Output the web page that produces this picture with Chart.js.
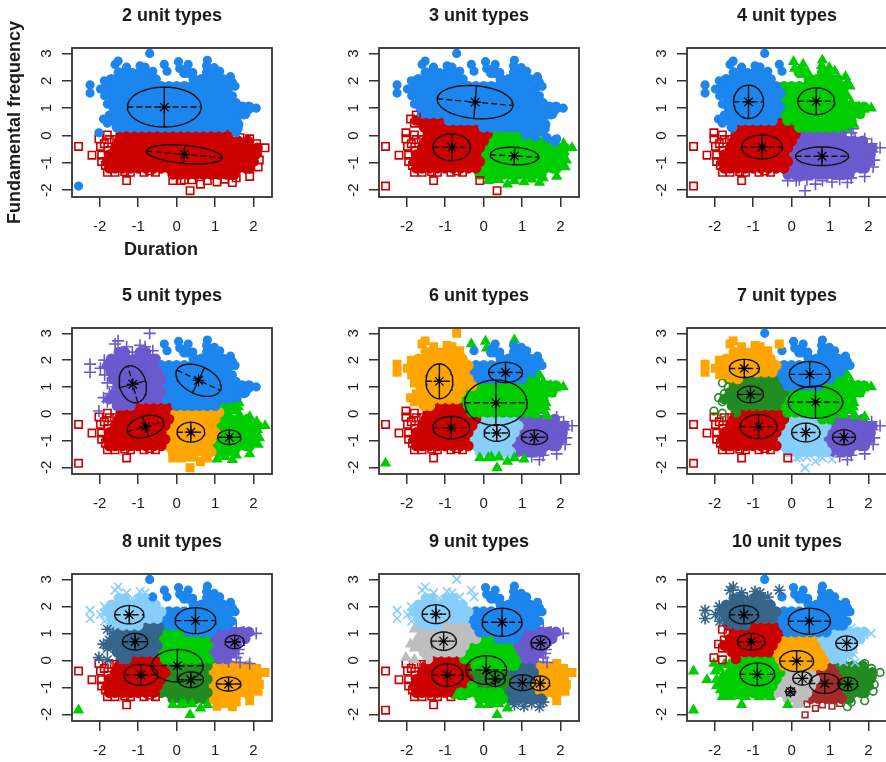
<!DOCTYPE html>
<html>
<head>
<meta charset="utf-8">
<script src="https://cdn.jsdelivr.net/npm/chart.js@4"></script>
<style>
html, body { margin: 0; padding: 0; background: #fff; width: 886px; height: 762px; overflow: hidden; }
canvas { position: absolute; }
</style>
</head>
<body>
<script>
var xTicks = [-2, -1, 0, 1, 2];
var yTicks = [-2, -1, 0, 1, 2, 3];
var xName = "Duration";
var yName = "Fundamental frequency";
var panelTitles = ["2 unit types", "3 unit types", "4 unit types", "5 unit types", "6 unit types",
    "7 unit types", "8 unit types", "9 unit types", "10 unit types"];

// the same tokens sit in every panel: [frequency, [durations]]
var cloudRows = [
    [2.3, [-1.5, -1.35, -.95, -.8, .2, .3, .8, .95]],
    [2.05, [-1.7, -1.5, -1.3, -1.1, -.9, -.7, -.55, .45, .65, .85, 1.05, 1.2]],
    [1.8, [-1.8, -1.6, -1.4, -1.2, -1, -.8, -.6, -.4, -.2, 0, .2, .4, .6, .8, 1, 1.2, 1.38]],
    [1.55, [-1.7, -1.5, -1.3, -1.1, -.9, -.7, -.5, -.3, -.1, .1, .3, .5, .7, .9, 1.1, 1.3]],
    [1.3, [-1.65, -1.4, -1.2, -1, -.8, -.6, -.4, -.2, 0, .2, .4, .6, .8, 1, 1.2, 1.33]],
    [1.05, [-1.5, -1.3, -1.1, -.9, -.7, -.5, -.3, -.1, .1, .3, .5, .7, .9, 1.1, 1.3, 1.5, 1.7, 1.88]],
    [.8, [-1.6, -1.4, -1.2, -1, -.8, -.6, -.4, -.2, 0, .2, .4, .6, .8, 1, 1.2, 1.4, 1.6, 1.78]],
    [.55, [-1.75, -1.5, -1.3, -1.1, -.9, -.7, -.5, -.3, -.1, .1, .3, .5, .7, .9, 1.1, 1.3, 1.55]],
    [.3, [-1.55, -1.4, -1.2, -1, -.8, -.6, -.4, -.2, 0, .2, .4, .6, .8, 1, 1.2, 1.45]],
    [.05, [-1.45, -1.3, -1.1, -.9, -.7, -.5, -.3, -.1, .1, .3, .5, .7, .9, 1.1, 1.3]],
    [-.2, [-1.5, -1.4, -1.2, -1, -.8, -.6, -.4, -.2, 0, .2, .4, .6, .8, 1, 1.2, 1.4, 1.6, 1.85]],
    [-.45, [-1.6, -1.5, -1.3, -1.1, -.9, -.7, -.5, -.3, -.1, .1, .3, .5, .7, .9, 1.1, 1.3, 1.5, 1.7, 1.9, 2.1]],
    [-.7, [-1.75, -1.6, -1.4, -1.2, -1, -.8, -.6, -.4, -.2, 0, .2, .4, .6, .8, 1, 1.2, 1.4, 1.6, 1.8, 2.05]],
    [-.95, [-1.8, -1.65, -1.5, -1.3, -1.1, -.9, -.7, -.5, -.3, -.1, .1, .3, .5, .7, .9, 1.1, 1.3, 1.5, 1.7, 1.9, 2]],
    [-1.2, [-1.75, -1.6, -1.4, -1.2, -1, -.8, -.6, -.4, -.2, 0, .2, .4, .6, .8, 1, 1.2, 1.4, 1.6, 1.8, 1.9]],
    [-1.42, [-.1, .1, .3, .5, .7, .9, 1.1, 1.3, 1.5]]
];

// stragglers round the edge of the cloud: [duration, frequency]
var rimPoints = [
    [-.7, 3], [-1.52, 2.72], [-1.6, 2.6], [-1.3, 2.5], [-1.15, 2.3], [-.95, 2.55], [-.82, 2.5], [-.62, 2.35],
    [-.32, 2.6], [-.25, 2.35], [.05, 2.7], [.08, 2.45], [.3, 2.6], [.2, 2.4], [.42, 2.3], [.8, 2.75], [.78, 2.55],
    [.98, 2.48], [1.12, 2.35], [1.4, 2.15], [1.45, 1.95], [1.52, 1.8],
    [-2.25, 1.85], [-2.25, 1.55], [-1.98, 1.7], [-1.88, 2], [-1.87, 1.75], [-1.87, 1.45], [-1.8, 1.15], [-1.65, 1],
    [-1.9, .6], [-1.75, .75], [-1.8, .45], [-1.55, .45],
    [-2.55, -.4], [-2.2, -.72], [-2.02, .1], [-2.02, -.12], [-1.98, -.4], [-1.95, -.72], [-1.8, .02], [-1.75, -.15],
    [-1.88, -.3], [-1.78, -.55], [-1.62, -.15], [-1.95, -.95], [-1.85, -1.1], [-1.8, -1.35], [-1.6, -1.35],
    [-1.35, -1.32], [-1.3, -1.65], [-1.2, -1.35], [-.85, -1.35], [-.7, -1.3], [-.55, -1.35],
    [-.1, -1.65], [.12, -1.65], [.2, -1.62], [.35, -2.02], [.4, -1.62], [.62, -1.78], [.8, -1.65], [1.05, -1.7],
    [1.25, -1.6], [1.45, -1.72], [1.55, -1.55], [1.9, -1.5],
    [2.12, -1.15], [2.15, -.9], [2.1, -.6], [2.3, -.45], [2.08, -.3], [1.9, -.12], [1.65, -.08], [1.35, -.05],
    [1.6, .25], [1.55, .1], [1.62, .4], [1.55, .6], [1.75, .75], [2.07, 1], [1.88, .95], [1.75, 1.05], [1.55, 1.2],
    [1.45, 1.45], [-2.55, -1.85]
];

// which unit owns which part of the cloud: [unit, duration, frequency, optional reach]
var panelSeeds = [
    [["blue", 0, 1.25], ["red", 0, -1.05], ["blue", -2.55, -1.85, .1]],
    [["blue", -.3, 1.3], ["blue", 1.4, 1], ["red", -.85, -.45], ["green", .8, -1],
        ["red", -.1, -1.65, .1], ["red", .35, -2.02, .1]],
    [["blue", -1.12, 1.25], ["green", .64, 1.25], ["red", -.77, -.42], ["purple", .79, -.76]],
    [["purple", -1.14, 1.1], ["blue", .4, 1.25], ["red", -.81, -.48], ["orange", .37, -.69], ["green", 1.7, -.8]],
    [["orange", -1.15, 1.21], ["blue", .57, 1.8], ["green", .32, .41], ["green", 1.4, .7], ["red", -.84, -.52],
        ["ltblue", .34, -.72], ["purple", 1.36, -.88], ["green", -2.55, -1.85, .1], ["green", .35, -2.02, .1],
        ["green", -.1, -1.65, .1], ["green", .12, -1.65, .1], ["green", .2, -1.62, .1], ["green", .4, -1.62, .1],
        ["green", .62, -1.78, .1], ["green", .8, -1.65, .1], ["green", 1.05, -1.7, .1],
        ["green", -.32, 2.6, .1], ["green", .05, 2.7, .1], ["green", .08, 2.45, .1], ["green", .8, 2.75, .1],
        ["orange", -.7, 3, .1]],
    [["orange", -1.23, 1.9], ["blue", .47, 1.6], ["dkgreen", -1.07, .72], ["green", .62, .43], ["green", 1.6, .7],
        ["red", -.86, -.48], ["ltblue", .37, -.72], ["ltblue", .4, -1.8], ["purple", 1.36, -.88],
        ["red", -.1, -1.65, .1], ["blue", -.7, 3, .1]],
    [["ltblue", -1.23, 1.85], ["blue", .49, 1.55], ["blue", 1.3, 1.9], ["steel", -1.08, .69], ["purple", 1.7, .65],
        ["green", .15, .5], ["red", -.93, -.54], ["dkgreen", .3, -.75], ["orange", 1.4, -.88],
        ["green", -2.55, -1.85, .1], ["green", .35, -2.02, .1], ["green", -.1, -1.65, .1], ["green", .12, -1.65, .1],
        ["green", .2, -1.62, .1], ["green", .4, -1.62, .1], ["green", .62, -1.78, .1], ["green", .8, -1.65, .1],
        ["blue", -.7, 3, .1], ["blue", -.32, 2.6, .1], ["blue", -.62, 2.35, .1]],
    [["ltblue", -1.24, 1.85], ["blue", .48, 1.5], ["blue", 1.3, 1.9], ["gray", -1.04, .71], ["purple", 1.65, .65],
        ["green", .2, .05], ["green", .05, -1.3], ["red", -.94, -.55], ["dkgreen", .2, -.8], ["steel", 1, -.83],
        ["steel", 1, -1.7], ["orange", 1.6, -.85], ["green", .35, -2.02, .1], ["green", -.1, -1.65, .1],
        ["green", .12, -1.65, .1], ["green", .2, -1.62, .1], ["green", .4, -1.62, .1], ["green", .62, -1.78, .1]],
    [["steel", -1.24, 1.85], ["blue", .46, 1.6], ["blue", 1.3, 1.95], ["ltblue", 1.6, .65], ["red", -1.05, .72],
        ["orange", .2, .2], ["green", -.89, -.52], ["gray", .2, -.8], ["brown", .95, -1], ["dkgreen", 1.6, -.88],
        ["purple", -.03, -1.2, .15], ["green", -2.55, -1.85, .1], ["green", -.1, -1.65, .1], ["blue", -.7, 3, .1]]
];

// fitted ellipses: [centre duration, centre frequency, long radius, short radius, tilt as seen on screen, degrees]
var panelEllipses = [
    [[-.32, 1.04, .96, .73, 0], [.2, -.69, .99, .33, -5]],
    [[-.22, 1.22, .99, .6, -5], [-.83, -.43, .49, .49, 0], [.8, -.75, .63, .32, -3]],
    [[-1.12, 1.23, .39, .61, 0], [.64, 1.25, .48, .49, 0], [-.77, -.42, .53, .44, 0], [.79, -.76, .69, .34, 0]],
    [[-1.14, 1.1, .495, .49, 105], [.57, 1.25, .625, .52, -25], [-.81, -.48, .49, .39, 15.5], [.37, -.69, .36, .37, 0],
        [1.37, -.88, .3, .27, 0]],
    [[-1.15, 1.21, .35, .65, 0], [.57, 1.54, .44, .38, 0], [.32, .41, .81, .85, 0], [-.84, -.52, .48, .42, 0],
        [.34, -.72, .33, .31, 0], [1.32, -.88, .34, .27, 0]],
    [[-1.23, 1.69, .39, .34, 0], [.47, 1.47, .53, .48, 0], [-1.07, .72, .34, .31, 0], [.62, .43, .71, .6, 0],
        [-.86, -.48, .48, .45, 0], [.37, -.7, .37, .35, 0], [1.36, -.88, .3, .28, 0]],
    [[-1.23, 1.69, .38, .34, 0], [.49, 1.47, .53, .48, 0], [-1.08, .69, .33, .31, 0], [1.51, .68, .25, .25, 0],
        [.02, -.2, .67, .6, 0], [-.93, -.54, .44, .39, 0], [.37, -.72, .33, .29, 0], [1.35, -.88, .32, .26, 0]],
    [[-1.24, 1.71, .36, .35, 0], [.48, 1.41, .52, .52, 0], [-1.04, .71, .33, .34, 0], [1.48, .65, .25, .26, 0],
        [.07, -.36, .53, .53, 0], [-.94, -.55, .41, .42, 0], [.3, -.69, .26, .28, 0], [1.01, -.83, .34, .29, 0],
        [1.47, -.85, .25, .27, 0]],
    [[-1.24, 1.69, .38, .34, 0], [.46, 1.45, .55, .48, 0], [1.43, .63, .28, .27, 0], [-1.05, .69, .36, .31, 0],
        [.13, -.03, .44, .39, 0], [-.89, -.52, .45, .42, 0], [.28, -.67, .25, .25, 0], [.86, -.86, .4, .37, 0],
        [1.46, -.88, .26, .25, 0], [-.03, -1.16, .12, .15, 0]]
];

var unitStyles = {
    blue: { color: "#1C86EE", shape: "circle", radius: 3.8, open: false },
    red: { color: "#CD0000", shape: "rect", radius: 5.2, open: true },
    green: { color: "#00CD00", shape: "triangle", radius: 5, open: false },
    purple: { color: "#6A5ACD", shape: "cross", radius: 6, open: true },
    orange: { color: "#FFA500", shape: "rect", radius: 5.2, open: false },
    ltblue: { color: "#87CEFA", shape: "crossRot", radius: 6, open: true },
    dkgreen: { color: "#228B22", shape: "circle", radius: 3.8, open: true },
    steel: { color: "#36648B", shape: "star", radius: 6, open: true },
    gray: { color: "#BEBEBE", shape: "triangle", radius: 5, open: false },
    brown: { color: "#A52A2A", shape: "rect", radius: 4, open: true }
};

var panelLefts = [0, 307, 615];
var panelTops = [0, 280, 526];
var plotHeights = [149, 146, 147];
var inkColor = "#1a1a1a";
var squash = 27 / 38.4;

function ownerOf(seeds, x, y) {
    var best = null, bestDist = Infinity, i, d;
    for (i = 0; i < seeds.length; i++) {
        d = Math.sqrt(Math.pow(x - seeds[i][1], 2) + Math.pow(y - seeds[i][2], 2));
        if (seeds[i].length > 3) {
            if (d < seeds[i][3]) {
                return seeds[i][0];
            }
        } else if (d < bestDist) {
            bestDist = d;
            best = seeds[i][0];
        }
    }
    return best;
}

function ellipseLine(e) {
    var pts = [], t = e[4] * Math.PI / 180, i, a;
    for (i = 0; i <= 48; i++) {
        a = i / 48 * 2 * Math.PI;
        pts.push({
            x: e[0] + e[2] * Math.cos(a) * Math.cos(t) - e[3] * squash * Math.sin(a) * Math.sin(t),
            y: e[1] + e[2] / squash * Math.cos(a) * Math.sin(t) + e[3] * Math.sin(a) * Math.cos(t)
        });
    }
    return pts;
}

function ellipseDatasets(e) {
    var t = e[4] * Math.PI / 180;
    var lx = e[2] * Math.cos(t), ly = e[2] / squash * Math.sin(t);
    var sx = e[3] * squash * Math.sin(t), sy = e[3] * Math.cos(t);
    var lineBase = { type: "scatter", showLine: true, pointRadius: 0, borderColor: "#111", borderWidth: 1.4, fill: false };
    return [
        { type: "scatter", data: [{ x: e[0], y: e[1] }], pointStyle: "star", pointRadius: 6, borderColor: "#000",
            borderWidth: 1.2, backgroundColor: "#000" },
        Object.assign({}, lineBase, { data: ellipseLine(e) }),
        Object.assign({}, lineBase, { borderDash: [6, 3], data: [
            { x: e[0] - lx, y: e[1] - ly }, { x: e[0] + lx, y: e[1] + ly }] }),
        Object.assign({}, lineBase, { data: [
            { x: e[0] + sx, y: e[1] - sy }, { x: e[0] - sx, y: e[1] + sy }] })
    ];
}

function unitDatasets(seeds) {
    var body = {}, rim = {}, sets = [], names = [];
    seeds.forEach(function (s) {
        if (names.indexOf(s[0]) < 0) {
            names.push(s[0]);
            body[s[0]] = [];
            rim[s[0]] = [];
        }
    });
    cloudRows.forEach(function (row) {
        row[1].forEach(function (x) {
            body[ownerOf(seeds, x, row[0])].push({ x: x, y: row[0] });
        });
    });
    rimPoints.forEach(function (p) {
        rim[ownerOf(seeds, p[0], p[1])].push({ x: p[0], y: p[1] });
    });
    names.forEach(function (n) {
        var st = unitStyles[n];
        sets.push({ type: "scatter", data: rim[n], pointStyle: st.shape, pointRadius: st.radius,
            borderColor: st.color, borderWidth: 1.6, backgroundColor: st.open ? "rgba(0,0,0,0)" : st.color });
    });
    names.forEach(function (n) {
        var st = unitStyles[n];
        sets.push({ type: "scatter", data: body[n], pointStyle: "circle", pointRadius: 5.4,
            borderWidth: 0, backgroundColor: st.color });
    });
    return sets;
}

// R style frame, and the x name that sits left of the plot centre
var framePlugin = {
    id: "frame",
    afterDraw: function (chart, args, opts) {
        var a = chart.chartArea, ctx = chart.ctx;
        ctx.save();
        ctx.strokeStyle = "#333";
        ctx.lineWidth = 1.8;
        ctx.strokeRect(a.left, a.top, a.right - a.left, a.bottom - a.top);
        if (opts.xName) {
            ctx.fillStyle = inkColor;
            ctx.font = "bold 18px 'Liberation Sans'";
            ctx.textAlign = "center";
            ctx.textBaseline = "middle";
            ctx.fillText(opts.xName, a.left + 89, a.bottom + 53);
        }
        ctx.restore();
    }
};

panelTitles.forEach(function (title, i) {
    var row = Math.floor(i / 3), col = i % 3;
    var canvas = document.createElement("canvas");
    var datasets = [];
    canvas.width = 300;
    canvas.height = 48 + plotHeights[row] + 70;
    canvas.style.left = panelLefts[col] + "px";
    canvas.style.top = panelTops[row] + "px";
    document.body.appendChild(canvas);

    panelEllipses[i].forEach(function (e) {
        datasets = datasets.concat(ellipseDatasets(e));
    });
    datasets = datasets.concat(unitDatasets(panelSeeds[i]));

    new Chart(canvas, {
        type: "scatter",
        data: { datasets: datasets },
        plugins: [framePlugin],
        options: {
            responsive: false,
            animation: false,
            layout: { padding: { left: 0, right: 28, top: 0, bottom: 0 } },
            plugins: {
                legend: { display: false },
                tooltip: { enabled: false },
                title: {
                    display: true,
                    text: title,
                    fullSize: false,
                    color: inkColor,
                    font: { family: "'Liberation Sans'", size: 18, weight: "bold", lineHeight: 1.2 },
                    padding: { top: 5.2, bottom: 21.2 }
                },
                frame: { xName: i === 0 ? xName : null }
            },
            scales: {
                x: {
                    type: "linear",
                    min: -2.72,
                    max: 2.48,
                    afterBuildTicks: function (s) { s.ticks = xTicks.map(function (v) { return { value: v }; }); },
                    afterFit: function (s) { s.height = 70; },
                    border: { display: false },
                    grid: { drawOnChartArea: false, tickLength: 10, color: "#333", lineWidth: 1.5 },
                    ticks: { color: inkColor, padding: 11, maxRotation: 0, autoSkip: false,
                        font: { family: "'Liberation Sans'", size: 15 } }
                },
                y: {
                    type: "linear",
                    min: -2.25,
                    max: 3.2,
                    afterBuildTicks: function (s) { s.ticks = yTicks.map(function (v) { return { value: v }; }); },
                    afterFit: function (s) { s.width = 72; },
                    border: { display: false },
                    grid: { drawOnChartArea: false, tickLength: 10, color: "#333", lineWidth: 1.5 },
                    title: {
                        display: i === 0,
                        text: yName,
                        color: inkColor,
                        font: { family: "'Liberation Sans'", size: 18, weight: "bold", lineHeight: 1.2 },
                        padding: { top: 4, bottom: 0 }
                    },
                    ticks: { color: inkColor, minRotation: 90, maxRotation: 90, crossAlign: "center", padding: 8.5,
                        autoSkip: false, font: { family: "'Liberation Sans'", size: 15 } }
                }
            }
        }
    });
});
</script>
</body>
</html>
